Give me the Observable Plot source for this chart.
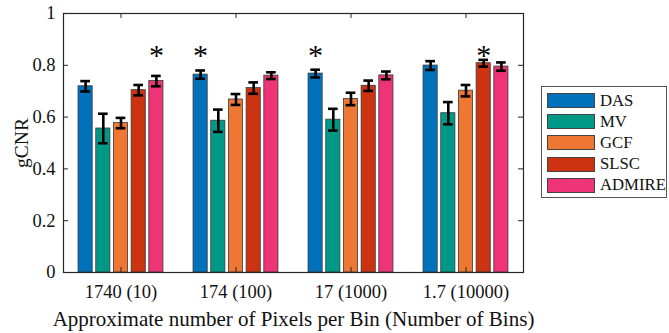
<!DOCTYPE html>
<html>
<head>
<meta charset="utf-8">
<script src="https://cdn.jsdelivr.net/npm/d3@7"></script>
<script src="https://cdn.jsdelivr.net/npm/@observablehq/plot@0.6"></script>
<style>
  body { margin: 0; background: #fff; }
  #chart { position: relative; width: 669px; height: 333px; font-family: "Liberation Serif", "Times New Roman", "DejaVu Serif", serif; }
  .legend { position: absolute; left: 541px; top: 86px; width: 126px; height: 112px; box-sizing: border-box;
            border: 1px solid #555; background: #fff; padding: 3px 0 0 5px;
            font-family: "Liberation Serif", "Times New Roman", serif; }
  .legend .row { display: flex; align-items: center; height: 21.2px; font-size: 16.7px; color: #111; }
  .legend .sw { width: 46px; height: 13px; border: 1px solid #444; margin-right: 5px; flex: none; }
</style>
</head>
<body>
<div id="chart"></div>
<script>
// Groups: approximate pixels per bin (number of bins)
const groups = ["1740 (10)", "174 (100)", "17 (1000)", "1.7 (10000)"];
const methods = ["DAS", "MV", "GCF", "SLSC", "ADMIRE"];
const colors = ["#0072bb", "#009988", "#ee7733", "#cc3311", "#ee3377"];

// Mean gCNR per method, one value per group
const meanDAS    = [0.719, 0.764, 0.768, 0.799];
const meanMV     = [0.556, 0.586, 0.590, 0.615];
const meanGCF    = [0.577, 0.668, 0.670, 0.702];
const meanSLSC   = [0.704, 0.712, 0.721, 0.808];
const meanADMIRE = [0.739, 0.760, 0.761, 0.795];

// Error bar half-widths
const errDAS    = [0.020, 0.016, 0.015, 0.017];
const errMV     = [0.057, 0.043, 0.042, 0.043];
const errGCF    = [0.020, 0.021, 0.024, 0.022];
const errSLSC   = [0.020, 0.022, 0.020, 0.013];
const errADMIRE = [0.020, 0.013, 0.015, 0.016];

// Method marked as significantly best in each group
const starred = ["ADMIRE", "DAS", "DAS", "SLSC"];

const yTicks = [0, 0.2, 0.4, 0.6, 0.8, 1];

const means = [meanDAS, meanMV, meanGCF, meanSLSC, meanADMIRE];
const errs = [errDAS, errMV, errGCF, errSLSC, errADMIRE];

// Grouped bar layout (group width = n/(n+1.5), bar width = 0.8 of slot)
const n = methods.length;
const slot = Math.min(0.8, n / (n + 1.5)) / n;
const barW = 0.8 * slot;
const capHalf = 0.042;

const rows = [];
groups.forEach((g, gi) => {
  methods.forEach((m, mi) => {
    rows.push({
      group: g, method: m,
      pos: gi + 1 + (mi - (n - 1) / 2) * slot,
      value: means[mi][gi], err: errs[mi][gi]
    });
  });
});
const stars = rows.filter(d => d.method === starred[groups.indexOf(d.group)]);

const W = 669, H = 333;
const mL = 63, mR = 146, mT = 13, mB = 61;
const innerW = W - mL - mR, innerH = H - mT - mB;
const tickLen = 5;
const axisColor = "#262626";

const plot = Plot.plot({
  width: W, height: H,
  marginLeft: mL, marginRight: mR, marginTop: mT, marginBottom: mB,
  style: { fontFamily: "Liberation Serif, Times New Roman, DejaVu Serif, serif", fontSize: "18.5px", color: "#111", background: "#fff" },
  x: { domain: [0.5, 4.5] },
  y: { domain: [0, 1] },
  color: { domain: methods, range: colors },
  marks: [
    Plot.rectY(rows, {
      x1: d => d.pos - barW / 2, x2: d => d.pos + barW / 2,
      y1: 0, y2: "value", fill: "method",
      stroke: "#3a3a3a", strokeWidth: 0.8
    }),
    Plot.ruleX(rows, { x: "pos", y1: d => d.value - d.err, y2: d => d.value + d.err, stroke: "#000", strokeWidth: 2.6 }),
    Plot.ruleY(rows, { y: d => d.value - d.err, x1: d => d.pos - capHalf, x2: d => d.pos + capHalf, stroke: "#000", strokeWidth: 2.6 }),
    Plot.ruleY(rows, { y: d => d.value + d.err, x1: d => d.pos - capHalf, x2: d => d.pos + capHalf, stroke: "#000", strokeWidth: 2.6 }),
    // significance asterisks on a common row near the top of the box
    Plot.text(stars, { x: "pos", text: () => "*", frameAnchor: "top", dy: 30, fontSize: 30, fill: "#000" }),
    // inward ticks on all four sides of the box
    Plot.tickX([1, 2, 3, 4], { x: d => d, insetBottom: innerH - tickLen, stroke: axisColor }),
    Plot.tickX([1, 2, 3, 4], { x: d => d, insetTop: innerH - tickLen, stroke: axisColor }),
    Plot.tickY(yTicks, { y: d => d, insetRight: innerW - tickLen, stroke: axisColor }),
    Plot.tickY(yTicks, { y: d => d, insetLeft: innerW - tickLen, stroke: axisColor }),
    Plot.frame({ stroke: axisColor, strokeWidth: 1.2 }),
    Plot.axisY({ ticks: yTicks, tickFormat: d => String(d), tickSize: 0, tickPadding: 8,
                 label: "gCNR", labelAnchor: "center", labelArrow: "none", labelOffset: 49 }),
    Plot.axisX({ ticks: [1, 2, 3, 4], tickFormat: d => groups[d - 1], tickSize: 0, tickPadding: 12,
                 label: "Approximate number of Pixels per Bin (Number of Bins)", labelAnchor: "center",
                 labelArrow: "none", labelOffset: 53 })
  ]
});

// axis titles are set slightly larger than the tick labels
plot.querySelectorAll('[aria-label="x-axis label"]').forEach(g => g.setAttribute("font-size", "21px"));
plot.querySelectorAll('[aria-label="y-axis label"]').forEach(g => g.setAttribute("font-size", "19.5px"));

const chart = document.getElementById("chart");
chart.appendChild(plot);

// Legend box on the right
const legend = document.createElement("div");
legend.className = "legend";
methods.forEach((m, i) => {
  const row = document.createElement("div");
  row.className = "row";
  const sw = document.createElement("span");
  sw.className = "sw";
  sw.style.background = colors[i];
  const label = document.createElement("span");
  label.textContent = m;
  row.appendChild(sw);
  row.appendChild(label);
  legend.appendChild(row);
});
chart.appendChild(legend);
</script>
</body>
</html>
